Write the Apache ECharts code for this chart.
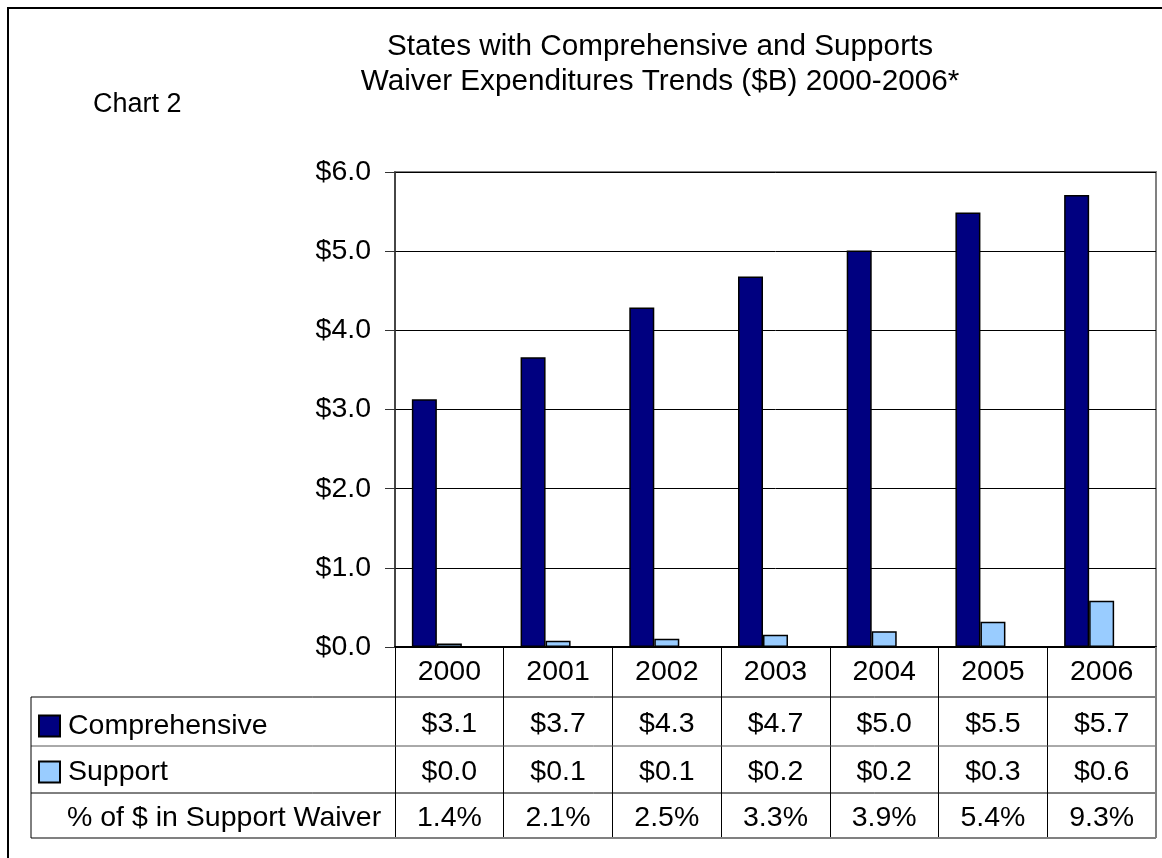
<!DOCTYPE html>
<html>
<head>
<meta charset="utf-8">
<script src="https://cdn.jsdelivr.net/npm/echarts@6/dist/echarts.min.js"></script>
<style>
  html, body { margin: 0; padding: 0; background: #fff; }
  #chart { width: 1162px; height: 858px; }
</style>
</head>
<body>
<div id="chart"></div>
<script>
// Waiver expenditures, billions of dollars
const years = ['2000', '2001', '2002', '2003', '2004', '2005', '2006'];
const comprehensive = [3.13, 3.66, 4.29, 4.68, 5.01, 5.49, 5.71];
const support = [0.045, 0.078, 0.105, 0.155, 0.20, 0.318, 0.585];
// share of spending in the support waiver, percent
const supportShare = [1.4, 2.1, 2.5, 3.3, 3.9, 5.4, 9.3];

const FONT = '"Liberation Sans", Arial, sans-serif';
const FS = 28.5;

// Plot area and data table layout
const plot = { left: 395, top: 172, right: 1156, bottom: 647 };
const tableLeft = 31;
const rowLines = [697, 746, 793];
const tableBottom = 838;

const chart = echarts.init(document.getElementById('chart'), null, { renderer: 'canvas' });

function hLine(y, color, w) {
  return {
    type: 'line', silent: true, z: 10,
    shape: { x1: tableLeft, y1: y, x2: plot.right, y2: y },
    style: { stroke: color, lineWidth: w }
  };
}

chart.setOption({
  animation: false,
  backgroundColor: '#fff',
  textStyle: { fontFamily: FONT },
  title: [
    {
      text: 'States with Comprehensive and Supports\nWaiver Expenditures Trends ($B) 2000-2006*',
      left: 660, top: 29, padding: 0,
      textAlign: 'center',
      textStyle: { fontFamily: FONT, fontSize: 29.7, fontWeight: 'normal', color: '#000', lineHeight: 35 }
    },
    {
      text: 'Chart 2',
      left: 93, top: 90, padding: 0,
      textStyle: { fontFamily: FONT, fontSize: 27, fontWeight: 'normal', color: '#000', lineHeight: 30 }
    }
  ],
  legend: {
    orient: 'vertical',
    left: 38, top: 703, padding: 0,
    itemGap: 0, itemWidth: 21, itemHeight: 21,
    icon: 'rect',
    selectedMode: false,
    data: ['Comprehensive', 'Support'],
    textStyle: { fontFamily: FONT, fontSize: FS, color: '#000', lineHeight: 46, padding: [0, 0, 0, 3] }
  },
  grid: {
    left: plot.left, top: plot.top,
    width: plot.right - plot.left, height: plot.bottom - plot.top,
    show: true, borderColor: '#808080', borderWidth: 2, backgroundColor: 'transparent'
  },
  xAxis: {
    type: 'category',
    data: years,
    axisLine: { show: true, lineStyle: { color: '#000', width: 2 } },
    axisTick: { show: true, interval: 0, length: tableBottom - plot.bottom, lineStyle: { color: '#000', width: 1 } },
    axisLabel: {
      interval: 0, margin: 0,
      fontFamily: FONT, fontSize: FS, color: '#000',
      // year header plus the three table rows beneath it
      formatter: function (value, idx) {
        return '{y|' + value + '}\n' +
          '{c|$' + comprehensive[idx].toFixed(1) + '}\n' +
          '{s|$' + support[idx].toFixed(1) + '}\n' +
          '{p|' + supportShare[idx].toFixed(1) + '%}';
      },
      rich: {
        y: { lineHeight: 50 },
        c: { lineHeight: 54 },
        s: { lineHeight: 42 },
        p: { lineHeight: 50 }
      }
    }
  },
  yAxis: {
    type: 'value',
    min: 0, max: 6, interval: 1,
    axisLine: { show: true, lineStyle: { color: '#333', width: 1.5 } },
    axisTick: { show: true, length: 10, lineStyle: { color: '#333', width: 1 } },
    splitLine: { show: true, lineStyle: { color: '#000', width: 1 } },
    axisLabel: {
      margin: 24,
      fontFamily: FONT, fontSize: FS, color: '#000',
      formatter: function (v) { return '$' + v.toFixed(1); }
    }
  },
  series: [
    {
      name: 'Comprehensive', type: 'bar', data: comprehensive,
      barWidth: 25, barGap: '0%',
      itemStyle: { color: '#000080', borderColor: '#000', borderWidth: 1.5 }
    },
    {
      name: 'Support', type: 'bar', data: support,
      barWidth: 25, barGap: '0%',
      itemStyle: { color: '#99CCFF', borderColor: '#000', borderWidth: 1.5 }
    },
    {
      // share series sits in the table; its bars are too small to show
      name: '% of $ in Support Waiver', type: 'bar',
      data: supportShare.map(function (p) { return p / 100; }),
      barWidth: 25, barGap: '0%',
      itemStyle: { color: 'transparent', borderWidth: 0 }
    }
  ],
  graphic: [
    // outer chart frame
    {
      type: 'rect', silent: true, z: 10,
      shape: { x: 8, y: 8, width: 1180, height: 880 },
      style: { fill: 'none', stroke: '#000', lineWidth: 2 }
    },
    // data table rules
    hLine(rowLines[0], '#000', 1),
    hLine(rowLines[1], '#555', 1),
    hLine(rowLines[2], '#000', 1),
    hLine(tableBottom, '#808080', 2),
    {
      type: 'line', silent: true, z: 10,
      shape: { x1: tableLeft, y1: rowLines[0], x2: tableLeft, y2: tableBottom },
      style: { stroke: '#000', lineWidth: 1 }
    },
    {
      type: 'line', silent: true, z: 10,
      shape: { x1: plot.right, y1: plot.bottom, x2: plot.right, y2: tableBottom },
      style: { stroke: '#808080', lineWidth: 2 }
    },
    {
      type: 'text', silent: true, z: 10,
      x: 67, y: 818,
      style: {
        text: '% of $ in Support Waiver',
        font: FS + 'px ' + FONT, fill: '#000',
        textAlign: 'left', textVerticalAlign: 'middle'
      }
    }
  ]
});
</script>
</body>
</html>
